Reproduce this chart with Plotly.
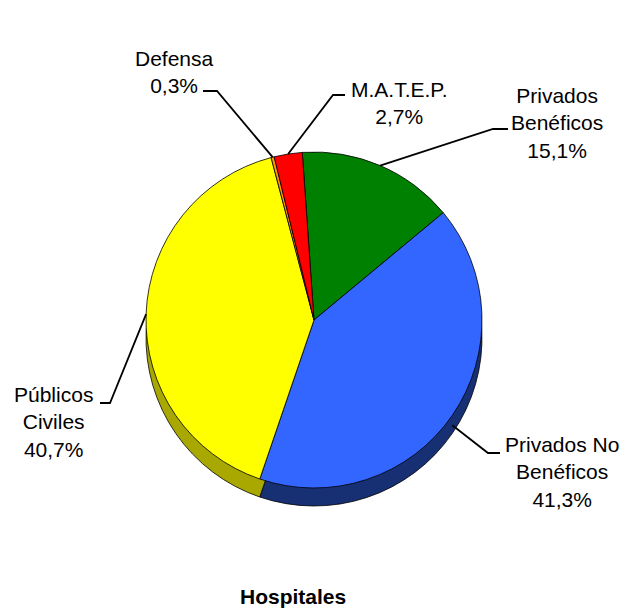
import numpy as np
import plotly.graph_objects as go

# ---- data ----
categories = ["Privados Benéficos", "Privados No Benéficos", "Públicos Civiles", "Defensa", "M.A.T.E.P."]
values = [15.1, 41.3, 40.7, 0.3, 2.7]
label_texts = ["Privados<br>Benéficos<br>15,1%", "Privados No<br>Benéficos<br>41,3%",
               "Públicos<br>Civiles<br>40,7%", "Defensa<br>0,3%", "M.A.T.E.P.<br>2,7%"]
title_text = "Hospitales"

# ---- styling ----
top_colors = ["#008000", "#3366FF", "#FFFF00", "#FF9900", "#FF0000"]
side_colors = ["#004000", "#172F73", "#A8A800", "#804C00", "#800000"]
FONT = "Liberation Sans, Arial, sans-serif"

W, H = 628, 609          # browser window
OFF = 8                  # default body margin of the page
FW, FH = W - 2 * OFF, H - OFF
CX, CY, R, DEPTH = 314, 320, 168, 18
ROT = -4


def fx(x):
    return (x - OFF) / FW


def fy(y):
    return 1 - (y - OFF) / FH


fig = go.Figure()

# depth (side) pie, shifted down
fig.add_trace(go.Pie(
    labels=categories, values=values, sort=False, direction="clockwise", rotation=ROT,
    marker=dict(colors=side_colors, line=dict(color="#000000", width=0.8)),
    textinfo="none", hoverinfo="skip", showlegend=False,
    domain=dict(x=[fx(CX - R), fx(CX + R)], y=[fy(CY + DEPTH + R), fy(CY + DEPTH - R)]),
))
# top pie
fig.add_trace(go.Pie(
    labels=categories, values=values, sort=False, direction="clockwise", rotation=ROT,
    marker=dict(colors=top_colors, line=dict(color="#000000", width=0.8)),
    textinfo="none", hoverinfo="label+percent", showlegend=False,
    domain=dict(x=[fx(CX - R), fx(CX + R)], y=[fy(CY + R), fy(CY - R)]),
))

# slice mid angles (clockwise from 12 o'clock)
vals = np.array(values, dtype=float)
frac = vals / vals.sum()
ends = ROT + 360 * np.cumsum(frac)
mids = ends - 360 * frac / 2

# label placement (text centre) and leader elbows
label_pos = [(557, 123), (562, 472), (53, 422), (175, 72), (399, 103)]
elbows = [((508, 129), (493, 129)), ((500, 453), (488, 453)), ((100, 403), (110, 403)),
          ((203, 91), (217, 91)), ((345, 95), (333, 95))]
extra_drop = [0, 10, 0, 0, 0]

shapes = []
annotations = []
for i, txt in enumerate(label_texts):
    lx, ly = label_pos[i]
    annotations.append(dict(
        x=fx(lx), y=fy(ly), xref="paper", yref="paper", text=txt, showarrow=False,
        xanchor="center", yanchor="middle", align="center",
        font=dict(family=FONT, size=21, color="#000000"),
    ))
    a = np.deg2rad(mids[i])
    px = CX + R * np.sin(a)
    py = CY - R * np.cos(a) + extra_drop[i]
    (x0, y0), (x1, y1) = elbows[i]
    path = f"M {fx(x0)},{fy(y0)} L {fx(x1)},{fy(y1)} L {fx(px)},{fy(py)}"
    shapes.append(dict(type="path", path=path, xref="paper", yref="paper",
                       line=dict(color="#000000", width=1.8)))

annotations.append(dict(
    x=fx(293), y=fy(596), xref="paper", yref="paper", text=f"<b>{title_text}</b>",
    showarrow=False, xanchor="center", yanchor="middle",
    font=dict(family=FONT, size=21, color="#000000"),
))

fig.update_layout(
    width=FW, height=FH, margin=dict(l=0, r=0, t=0, b=0),
    paper_bgcolor="#FFFFFF", plot_bgcolor="#FFFFFF",
    shapes=shapes, annotations=annotations, showlegend=False,
)

fig.write_html("out.html")
